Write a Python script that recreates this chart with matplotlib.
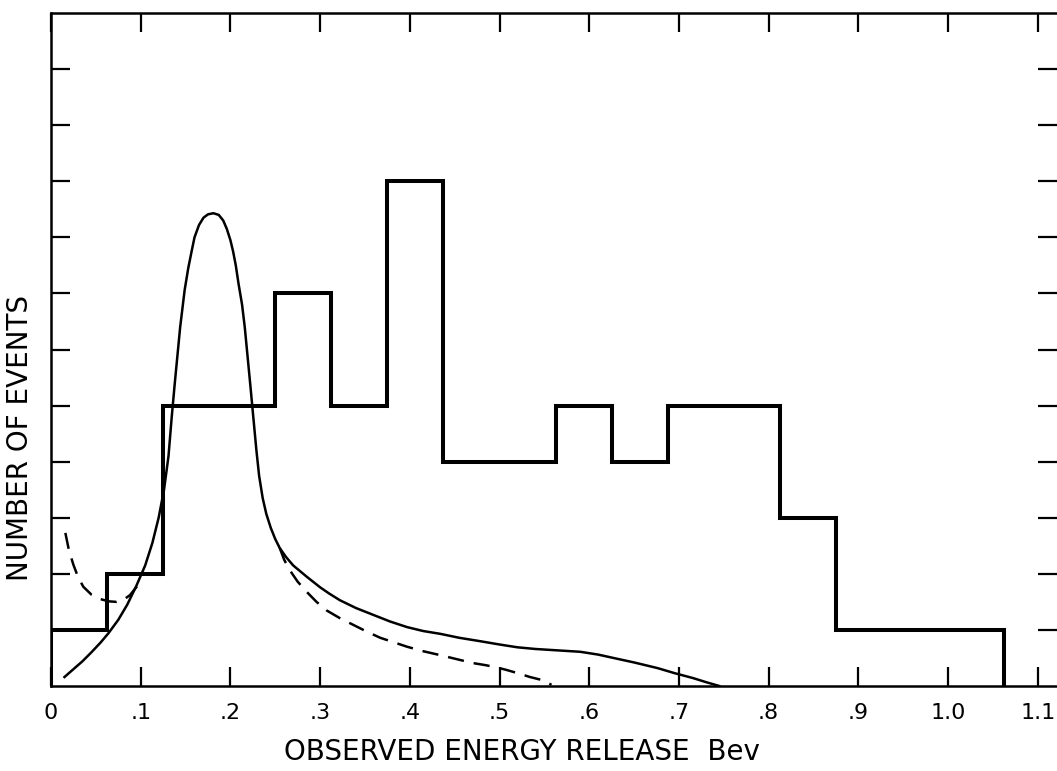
import numpy as np
import matplotlib
matplotlib.use("Agg")
import matplotlib.pyplot as plt

# Histogram of observed energy release (bin width 1/16 Bev)
bin_edges = [0, 0.0625, 0.125, 0.25, 0.3125, 0.375, 0.4375, 0.5625,
             0.625, 0.6875, 0.8125, 0.875, 1.0625]
counts = [1, 2, 5, 7, 5, 9, 4, 5, 4, 5, 3, 1]

# Solid (calculated) curve
solid_x = [0.015, 0.025, 0.035, 0.045, 0.055, 0.064, 0.075, 0.085, 0.095,
           0.105, 0.113, 0.12, 0.126, 0.131, 0.1346, 0.138, 0.141, 0.144,
           0.149, 0.153, 0.157, 0.16, 0.165, 0.17, 0.175, 0.181, 0.187,
           0.192, 0.196, 0.2, 0.203, 0.206, 0.209, 0.213, 0.216, 0.219,
           0.222, 0.2255, 0.229, 0.232, 0.236, 0.24, 0.245, 0.25, 0.255,
           0.262, 0.27, 0.285, 0.3, 0.31, 0.322, 0.34, 0.359, 0.378, 0.397,
           0.415, 0.434, 0.455, 0.478, 0.5, 0.52, 0.54, 0.56, 0.59, 0.61,
           0.627, 0.65, 0.676, 0.695, 0.716, 0.73, 0.745]
solid_y = [0.16, 0.3, 0.44, 0.6, 0.77, 0.94, 1.18, 1.45, 1.78,
           2.15, 2.55, 3.0, 3.5, 4.1, 4.8, 5.4, 5.9, 6.4,
           7.06, 7.45, 7.77, 8.0, 8.22, 8.35, 8.41, 8.43, 8.4,
           8.3, 8.15, 7.95, 7.75, 7.5, 7.18, 6.8, 6.4, 5.9,
           5.4, 4.8, 4.2, 3.75, 3.35, 3.07, 2.82, 2.62, 2.46,
           2.3, 2.15, 1.95, 1.76, 1.65, 1.53, 1.39, 1.27, 1.15, 1.05,
           0.98, 0.93, 0.86, 0.80, 0.74, 0.69, 0.66, 0.64, 0.61, 0.56,
           0.50, 0.42, 0.32, 0.23, 0.14, 0.07, 0.0]

# Dashed curve: visible parts (it runs under the solid curve in between)
dash_left_x = [0.016, 0.02, 0.025, 0.03, 0.036, 0.045, 0.055, 0.064, 0.073,
               0.081, 0.088, 0.096]
dash_left_y = [2.73, 2.42, 2.16, 1.95, 1.77, 1.63, 1.55, 1.51, 1.50,
               1.54, 1.62, 1.78]
dash_right_x = [0.255, 0.26, 0.266, 0.275, 0.285, 0.296, 0.307, 0.322, 0.337,
                0.352, 0.367, 0.382, 0.397, 0.415, 0.434, 0.452, 0.47, 0.485,
                0.497, 0.507, 0.52, 0.534, 0.549, 0.558]
dash_right_y = [2.46, 2.25, 2.07, 1.86, 1.68, 1.5, 1.35, 1.21, 1.09,
                0.97, 0.86, 0.78, 0.70, 0.62, 0.55, 0.48, 0.41, 0.37,
                0.33, 0.29, 0.23, 0.16, 0.10, 0.02]

x_ticks = [0, 0.1, 0.2, 0.3, 0.4, 0.5, 0.6, 0.7, 0.8, 0.9, 1.0, 1.1]
x_tick_labels = ["0", ".1", ".2", ".3", ".4", ".5", ".6", ".7", ".8", ".9", "1.0", "1.1"]
y_ticks = list(range(1, 12))

W, H = 1057, 771
fig = plt.figure(figsize=(W / 100, H / 100), dpi=100)
ax = fig.add_axes([51 / W, (H - 686) / H, (W - 51) / W, (686 - 13) / H])

# histogram outline
ax.stairs(counts, bin_edges, color="black", linewidth=2.9, baseline=0, fill=False)

ax.plot(solid_x, solid_y, color="black", linewidth=1.8)
dash = (0, (6.5, 4))
ax.plot(dash_left_x, dash_left_y, color="black", linewidth=1.8, linestyle=dash)
ax.plot(dash_right_x, dash_right_y, color="black", linewidth=1.8, linestyle=dash)

ax.set_xlim(0, (W - 51) / 897)
ax.set_ylim(0, 12)

ax.set_xticks(x_ticks)
ax.set_xticklabels(x_tick_labels, fontsize=16)
ax.set_yticks(y_ticks)
ax.set_yticklabels([])
ax.tick_params(axis="x", direction="in", length=14, width=1.6, top=True, pad=12)
ax.tick_params(axis="y", direction="in", length=14, width=1.6, right=True)

for side in ["left", "bottom", "top"]:
    ax.spines[side].set_linewidth(1.8)
ax.spines["right"].set_visible(False)

fig.text(522 / W, 1 - 752 / H, "OBSERVED ENERGY RELEASE  Bev", fontsize=20,
         ha="center", va="center")
fig.text(20 / W, 1 - 438 / H, "NUMBER OF EVENTS", fontsize=20, rotation=90,
         ha="center", va="center")

fig.savefig("out.png", dpi=100)
